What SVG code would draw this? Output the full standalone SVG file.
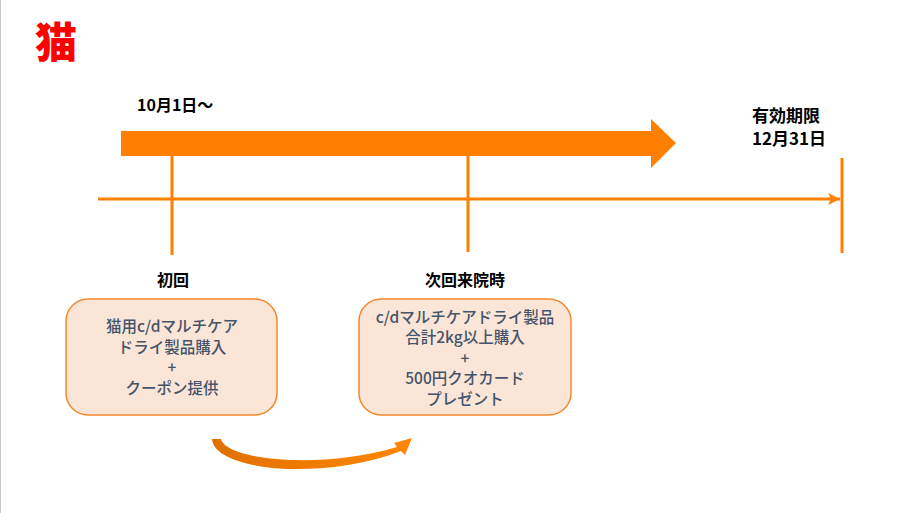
<svg xmlns="http://www.w3.org/2000/svg" width="921" height="513" viewBox="0 0 921 513">
<defs>
<style>
.t{font-family:"Noto Sans CJK JP","Noto Sans",sans-serif;}
.lbl{font-family:"Noto Sans CJK JP","Noto Sans",sans-serif;font-weight:bold;fill:#000;}
.bt{font-family:"Noto Sans CJK JP","Noto Sans",sans-serif;font-size:15.5px;font-weight:500;fill:#44546a;text-anchor:middle;}
.box{fill:#fbe5d6;stroke:#f4892b;stroke-width:1.5;}
.ln{stroke:#ff8000;stroke-width:3;fill:none;}
</style>
<marker id="ah" markerWidth="13" markerHeight="13" refX="12" refY="6.5" orient="auto" markerUnits="userSpaceOnUse">
<path d="M0,0.5 L12,6.5 L0,12.5 L3,6.5 Z" fill="#ff8000"/>
</marker>
<linearGradient id="cg" x1="0" y1="0" x2="1" y2="0">
<stop offset="0" stop-color="#e07000"/>
<stop offset="1" stop-color="#ff8800"/>
</linearGradient>
</defs>
<rect width="921" height="513" fill="#fff"/>
<line x1="0.5" y1="0" x2="0.5" y2="513" stroke="#c8c8c8" stroke-width="1"/>
<text id="title" class="t" x="35" y="58" font-size="42" font-weight="900" fill="#ff0000">猫</text>

<g id="bigarrow">
<polygon points="121,131 651,131 651,119 676,143 651,168 651,156 121,156" fill="#ff8000"/>
</g>

<g id="connectors">
<line class="ln" x1="98" y1="199" x2="840" y2="199" marker-end="url(#ah)"/>
<line class="ln" x1="842" y1="158" x2="842" y2="253"/>
<line class="ln" x1="172" y1="156" x2="172" y2="255"/>
<line class="ln" x1="468" y1="156" x2="468" y2="252"/>
<path d="M212,439 L221,439 C226,460 320,470 397,447 L394,443 L412,438 L405,455 L401,451 C320,482 214,470 212,439 Z" fill="url(#cg)"/>
</g>

<g id="start">
<text class="lbl" x="137" y="111" font-size="16">10月1日～</text>
</g>
<g id="expiry">
<text class="lbl" x="752" y="122" font-size="17">有効期限</text>
<text class="lbl" x="752" y="145" font-size="17">12月31日</text>
</g>

<g id="first">
<text class="lbl" x="173" y="286" font-size="16" text-anchor="middle">初回</text>
<rect class="box" x="66" y="299" width="211" height="116" rx="22"/>
<text class="bt" x="172" y="332">猫用c/dマルチケア</text>
<text class="bt" x="172" y="353">ドライ製品購入</text>
<text class="bt" x="172" y="373">+</text>
<text class="bt" x="172" y="394">クーポン提供</text>
</g>

<g id="next">
<text class="lbl" x="465" y="286" font-size="16" text-anchor="middle">次回来院時</text>
<rect class="box" x="359" y="299" width="212" height="116" rx="22"/>
<text class="bt" x="465" y="323">c/dマルチケアドライ製品</text>
<text class="bt" x="465" y="343">合計2kg以上購入</text>
<text class="bt" x="465" y="364">+</text>
<text class="bt" x="465" y="384">500円クオカード</text>
<text class="bt" x="465" y="405">プレゼント</text>
</g>
</svg>
